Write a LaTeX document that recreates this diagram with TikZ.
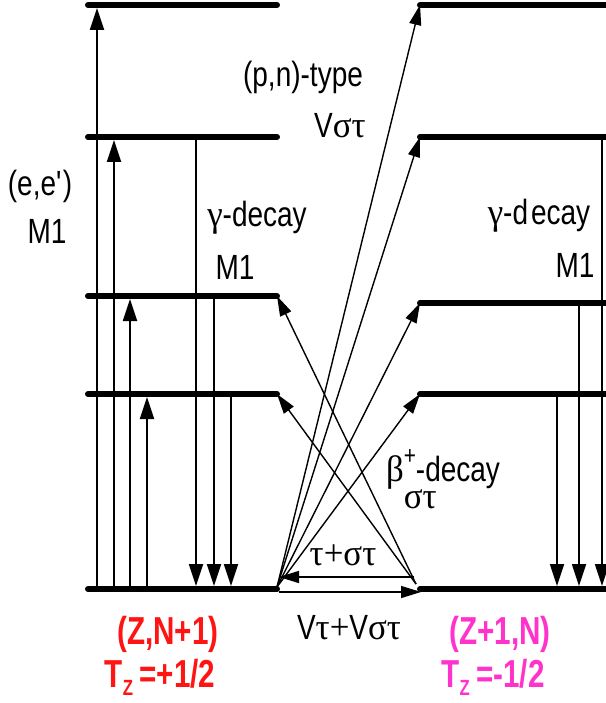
\documentclass[tikz,border=0pt]{standalone}
\usepackage{fontspec}
\setmainfont{Liberation Sans}[FakeStretch=0.8]
\newfontfamily\grk{Liberation Serif}[Scale=1.05,FakeStretch=0.95]
\newfontfamily\nucfont{Liberation Sans}[FakeStretch=0.76]
\usetikzlibrary{arrows.meta}
\definecolor{nucred}{RGB}{255,20,20}
\definecolor{nucpink}{RGB}{255,51,204}
\tikzset{level/.style={line width=6pt,line cap=round},
  arr/.style={line width=1.8pt,-{Triangle[length=22pt,width=14pt]},shorten >=3pt},
  xarr/.style={line width=1.4pt,-{Triangle[length=20pt,width=12pt]}},
  lbl/.style={font=\fontsize{35}{38}\selectfont,inner sep=0pt},
  nuc/.style={font=\nucfont\bfseries\fontsize{39}{42}\selectfont,inner sep=0pt}}

\begin{document}
\begin{tikzpicture}[x=1pt,y=-1pt]
\useasboundingbox (0,0) rectangle (605,703);
% levels of both nuclei, 0 = ground state
\foreach \n/\yl/\yr in {0/589/589,1/394/394,2/296/303,3/137/137,4/5/5}{
  \coordinate (lw\n) at (88,\yl); \coordinate (le\n) at (277,\yl);
  \coordinate (rw\n) at (420,\yr); \coordinate (re\n) at (610,\yr);
  \draw[level] (lw\n) -- (le\n);
  \draw[level] (rw\n) -- (re\n);
}
% (e,e') excitation and gamma decay
\foreach \x/\n in {97/4,114/3,130/2,147/1}
  \draw[arr] (\x,0 |- lw0) -- (\x,0 |- lw\n);
\foreach \x/\n in {196/3,214/2,231/1}
  \draw[arr] (\x,0 |- lw\n) -- (\x,0 |- lw0);
\foreach \x/\n in {557/1,579/2,602/3}
  \draw[arr] (\x,0 |- rw\n) -- (\x,0 |- rw0);
% charge exchange
\coordinate (xl) at (277,587);
\coordinate (xr) at (416,584);
\foreach \n in {1,...,4}
  \draw[xarr] (xl) -- (rw\n);
\foreach \n in {1,2}
  \draw[xarr] (xr) -- (le\n);
\coordinate (tsR) at (414,577); \coordinate (tsL) at (279,577);
\coordinate (vA) at (279,592); \coordinate (vB) at (421,592);
\draw[xarr] (tsR) -- (tsL);
\draw[xarr] (vA) -- (vB);
% labels
\node[lbl] (pn) at (303,77) {(p,n)-type};
\node[lbl] (vst) at (340,126) {V{\grk στ}};
\node[lbl] (ee) at (40,186) {(e,e\textquotesingle)};
\node[lbl] (m1a) at (47,231) {M1};
\node[lbl] (gl) at (257,218) {{\grk γ}-decay};
\node[lbl] (m1b) at (235,267) {M1};
\node[lbl] (gr) at (539,216) {{\grk γ}-d\hspace{3pt}ecay};
\node[lbl] (m1c) at (575,265) {M1};
\node[lbl] (beta) at (443,479) {{\grk β}\rlap{\raisebox{-0.75em}{\grk στ}}\raisebox{0.5em}{\fontsize{26}{26}\selectfont +}-decay};
\node[lbl] (tst) at (343,555) {\grk τ+στ};
\node[lbl] (vtv) at (349,628) {V{\grk τ+}V{\grk στ}};
\node[nuc,nucred] (zn) at (168,634) {(Z,N+1)};
\node[nuc,nucred] (tza) at (160,677) {T\raisebox{-8pt}{\fontsize{22}{22}\selectfont Z}\,=+1/2};
\node[nuc,nucpink] (zp) at (500,634) {(Z+1,N)};
\node[nuc,nucpink] (tzb) at (493,677) {T\raisebox{-8pt}{\fontsize{22}{22}\selectfont Z}\,=-1/2};
\end{tikzpicture}
\end{document}
